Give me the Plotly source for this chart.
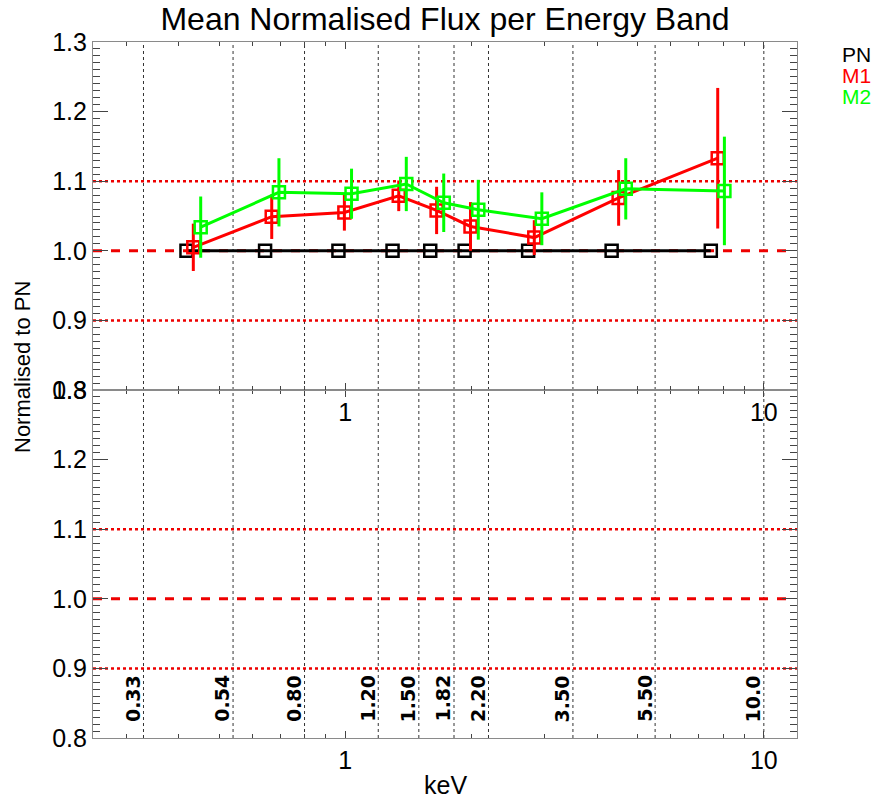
import numpy as np
import plotly.graph_objects as go

# ---------------- data ----------------
band_edges = [0.33, 0.54, 0.80, 1.20, 1.50, 1.82, 2.20, 3.50, 5.50, 10.0]
band_labels = ["0.33", "0.54", "0.80", "1.20", "1.50", "1.82", "2.20", "3.50", "5.50", "10.0"]

pn_x = [0.418, 0.644, 0.964, 1.298, 1.597, 1.929, 2.736, 4.33, 7.47]
pn_y = [1.0, 1.0, 1.0, 1.0, 1.0, 1.0, 1.0, 1.0, 1.0]

m1_x = [0.434, 0.668, 0.996, 1.343, 1.654, 1.993, 2.83, 4.50, 7.76]
m1_y = [1.005, 1.049, 1.055, 1.079, 1.058, 1.035, 1.019, 1.076, 1.133]
m1_err = [0.034, 0.032, 0.026, 0.022, 0.034, 0.035, 0.025, 0.040, 0.101]

m2_x = [0.452, 0.695, 1.036, 1.40, 1.72, 2.08, 2.95, 4.68, 8.05]
m2_y = [1.034, 1.084, 1.082, 1.096, 1.069, 1.059, 1.046, 1.089, 1.086]
m2_err = [0.044, 0.049, 0.036, 0.039, 0.042, 0.043, 0.038, 0.044, 0.078]

ref_dotted = [0.9, 1.1]
ref_dashed = [1.0]

x_range = [0.25, 12.0]
y_range = [0.8, 1.3]
y_ticks = [0.8, 0.9, 1.0, 1.1, 1.2, 1.3]
x_ticks = [1, 10]
x_minor = [0.3, 0.4, 0.5, 0.6, 0.7, 0.8, 0.9, 2, 3, 4, 5, 6, 7, 8, 9]

FONT = "Liberation Sans"
RED = "#ff0000"
GREEN = "#00ff00"

fig = go.Figure()

series = [
    ("PN", pn_x, pn_y, None, "black"),
    ("M1", m1_x, m1_y, m1_err, RED),
    ("M2", m2_x, m2_y, m2_err, GREEN),
]
for name, xs, ys, err, col in series:
    fig.add_trace(go.Scatter(
        x=xs, y=ys, name=name, mode="lines+markers",
        xaxis="x2", yaxis="y2",
        line=dict(color=col, width=3),
        marker=dict(symbol="square-open", size=12, color=col, line=dict(width=2.5, color=col)),
        error_y=(dict(type="data", array=err, visible=True, color=col, thickness=3, width=0)
                 if err is not None else dict(visible=False)),
        showlegend=False,
    ))

shapes = []
for yref in ["y", "y2"]:
    for e in band_edges:
        shapes.append(dict(type="line", xref="x" if yref == "y" else "x2", yref="paper",
                           x0=e, x1=e, y0=0 if yref == "y" else 0.5, y1=0.5 if yref == "y" else 1,
                           line=dict(color="#333333", width=1, dash="dot"), layer="below"))
    for v in ref_dotted:
        shapes.append(dict(type="line", xref="paper", yref=yref, x0=0, x1=1, y0=v, y1=v,
                           line=dict(color="#ee0000", width=2.5, dash="dot"), layer="below"))
    for v in ref_dashed:
        shapes.append(dict(type="line", xref="paper", yref=yref, x0=0, x1=0.985, y0=v, y1=v,
                           line=dict(color="#ee0000", width=3, dash="dash"), layer="below"))

annotations = []
for e, lab in zip(band_edges, band_labels):
    annotations.append(dict(x=np.log10(e), y=0.82, xref="x", yref="y", text="<b>" + lab + "</b>",
                            textangle=-90, xanchor="right", yanchor="bottom", showarrow=False,
                            xshift=2, font=dict(family="DejaVu Sans", size=19, color="black")))

legend_items = [("PN", "black", 55), ("M1", RED, 76), ("M2", GREEN, 97)]
L, R, T, B = 93, 79, 42, 64
W, H = 876, 802
pw, ph = W - L - R, H - T - B
for lab, col, py in legend_items:
    annotations.append(dict(x=(840 - L) / pw, y=(H - B - py) / ph, xref="paper", yref="paper",
                            text=lab, showarrow=False,
                            font=dict(family=FONT, size=21, color=col), xanchor="left", yanchor="middle"))

annotations.append(dict(x=0.5, y=(H - B - 785) / ph, xref="paper", yref="paper", text="keV",
                        showarrow=False, font=dict(family=FONT, size=25, color="black"),
                        xanchor="center", yanchor="middle"))
annotations.append(dict(x=(22 - L) / pw, y=(H - B - 367) / ph, xref="paper", yref="paper",
                        text="Normalised to PN", textangle=-90, showarrow=False,
                        font=dict(family=FONT, size=22, color="black"),
                        xanchor="center", yanchor="middle"))

xcommon = dict(type="log", range=[np.log10(x_range[0]), np.log10(x_range[1])],
               tickvals=x_ticks, ticktext=["1", "10"], ticks="inside", ticklen=7,
               tickcolor="#444", tickwidth=1.2,
               minor=dict(tickvals=x_minor, ticks="inside", ticklen=4, tickcolor="#444", tickwidth=1),
               showline=True, linecolor="#8a8a8a", linewidth=1.2, mirror="allticks",
               showgrid=False, zeroline=False,
               tickfont=dict(family=FONT, size=25, color="black"))
ycommon = dict(range=y_range, tickvals=y_ticks, ticktext=["%.1f" % v for v in y_ticks],
               ticks="inside", ticklen=15, tickcolor="#444", tickwidth=1.2,
               minor=dict(dtick=0.01, ticks="inside", ticklen=7, tickcolor="#444", tickwidth=1),
               showline=True, linecolor="#8a8a8a", linewidth=1.2, mirror="allticks",
               showgrid=False, zeroline=False,
               tickfont=dict(family=FONT, size=25, color="black"))

fig.update_layout(
    width=W, height=H,
    margin=dict(l=L, r=R, t=T, b=B),
    paper_bgcolor="white", plot_bgcolor="white",
    title=dict(text="Mean Normalised Flux per Energy Band", x=445 / W, xanchor="center",
               y=1 - 19 / H, yanchor="middle", yref="container",
               font=dict(family=FONT, size=32, color="black")),
    xaxis=dict(domain=[0, 1], anchor="y", **xcommon),
    xaxis2=dict(domain=[0, 1], anchor="y2", **xcommon),
    yaxis=dict(domain=[0, 0.5], anchor="x", **ycommon),
    yaxis2=dict(domain=[0.5, 1], anchor="x2", **ycommon),
    shapes=shapes,
    annotations=annotations,
    showlegend=False,
)

fig.write_html("out.html")
